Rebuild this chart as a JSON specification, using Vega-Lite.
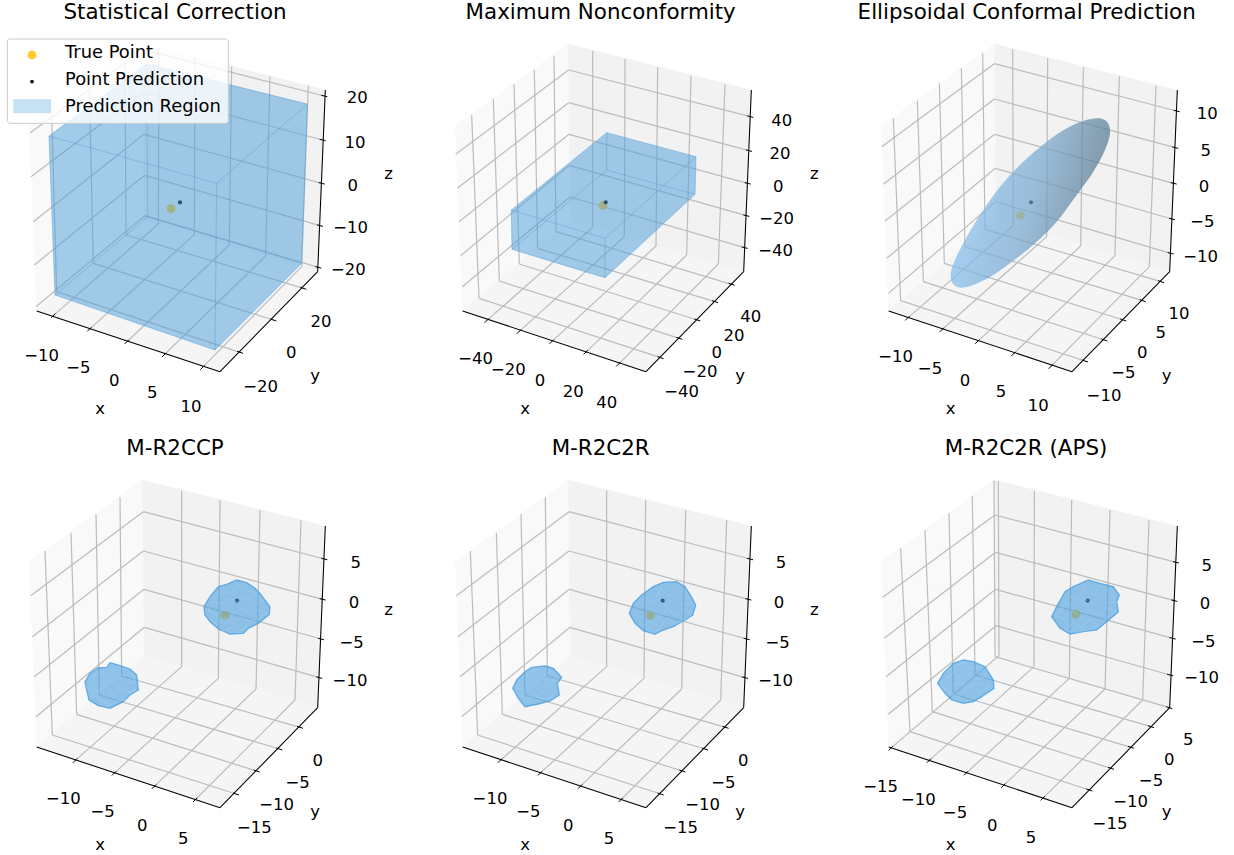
{"$schema":"https://vega.github.io/schema/vega-lite/v6.json","padding":0,"background":"white","bounds":"flush","columns":3,"spacing":{"column":44,"row":17},
"config":{"view":{"stroke":null},"axis":{"disable":true},"text":{"font":"DejaVu Sans"}},
"data":{"values":[
{"p":1,"k":"p","g":"a","x":110,"y":928},{"p":1,"k":"p","g":"a","x":433,"y":654},{"p":1,"k":"p","g":"a","x":427,"y":127},{"p":1,"k":"p","g":"a","x":88,"y":373},
{"p":1,"k":"p","g":"b","x":433,"y":654},{"p":1,"k":"p","g":"b","x":953,"y":810},{"p":1,"k":"p","g":"b","x":976,"y":265},{"p":1,"k":"p","g":"b","x":427,"y":127},
{"p":1,"k":"p","g":"c","x":110,"y":928},{"p":1,"k":"p","g":"c","x":660,"y":1110},{"p":1,"k":"p","g":"c","x":953,"y":810},{"p":1,"k":"p","g":"c","x":433,"y":654},
{"p":2,"k":"p","g":"a","x":110,"y":928},{"p":2,"k":"p","g":"a","x":433,"y":654},{"p":2,"k":"p","g":"a","x":427,"y":127},{"p":2,"k":"p","g":"a","x":88,"y":373},
{"p":2,"k":"p","g":"b","x":433,"y":654},{"p":2,"k":"p","g":"b","x":953,"y":810},{"p":2,"k":"p","g":"b","x":976,"y":265},{"p":2,"k":"p","g":"b","x":427,"y":127},
{"p":2,"k":"p","g":"c","x":110,"y":928},{"p":2,"k":"p","g":"c","x":660,"y":1110},{"p":2,"k":"p","g":"c","x":953,"y":810},{"p":2,"k":"p","g":"c","x":433,"y":654},
{"p":3,"k":"p","g":"a","x":110,"y":928},{"p":3,"k":"p","g":"a","x":433,"y":654},{"p":3,"k":"p","g":"a","x":427,"y":127},{"p":3,"k":"p","g":"a","x":88,"y":373},
{"p":3,"k":"p","g":"b","x":433,"y":654},{"p":3,"k":"p","g":"b","x":953,"y":810},{"p":3,"k":"p","g":"b","x":976,"y":265},{"p":3,"k":"p","g":"b","x":427,"y":127},
{"p":3,"k":"p","g":"c","x":110,"y":928},{"p":3,"k":"p","g":"c","x":660,"y":1110},{"p":3,"k":"p","g":"c","x":953,"y":810},{"p":3,"k":"p","g":"c","x":433,"y":654},
{"p":4,"k":"p","g":"a","x":110,"y":928},{"p":4,"k":"p","g":"a","x":433,"y":654},{"p":4,"k":"p","g":"a","x":427,"y":127},{"p":4,"k":"p","g":"a","x":88,"y":373},
{"p":4,"k":"p","g":"b","x":433,"y":654},{"p":4,"k":"p","g":"b","x":953,"y":810},{"p":4,"k":"p","g":"b","x":976,"y":265},{"p":4,"k":"p","g":"b","x":427,"y":127},
{"p":4,"k":"p","g":"c","x":110,"y":928},{"p":4,"k":"p","g":"c","x":660,"y":1110},{"p":4,"k":"p","g":"c","x":953,"y":810},{"p":4,"k":"p","g":"c","x":433,"y":654},
{"p":5,"k":"p","g":"a","x":110,"y":928},{"p":5,"k":"p","g":"a","x":433,"y":654},{"p":5,"k":"p","g":"a","x":427,"y":127},{"p":5,"k":"p","g":"a","x":88,"y":373},
{"p":5,"k":"p","g":"b","x":433,"y":654},{"p":5,"k":"p","g":"b","x":953,"y":810},{"p":5,"k":"p","g":"b","x":976,"y":265},{"p":5,"k":"p","g":"b","x":427,"y":127},
{"p":5,"k":"p","g":"c","x":110,"y":928},{"p":5,"k":"p","g":"c","x":660,"y":1110},{"p":5,"k":"p","g":"c","x":953,"y":810},{"p":5,"k":"p","g":"c","x":433,"y":654},
{"p":6,"k":"p","g":"a","x":110,"y":928},{"p":6,"k":"p","g":"a","x":433,"y":654},{"p":6,"k":"p","g":"a","x":427,"y":127},{"p":6,"k":"p","g":"a","x":88,"y":373},
{"p":6,"k":"p","g":"b","x":433,"y":654},{"p":6,"k":"p","g":"b","x":953,"y":810},{"p":6,"k":"p","g":"b","x":976,"y":265},{"p":6,"k":"p","g":"b","x":427,"y":127},
{"p":6,"k":"p","g":"c","x":110,"y":928},{"p":6,"k":"p","g":"c","x":660,"y":1110},{"p":6,"k":"p","g":"c","x":953,"y":810},{"p":6,"k":"p","g":"c","x":433,"y":654},
{"p":1,"k":"a","x0":110,"y0":928,"x1":660,"y1":1110},{"p":1,"k":"a","x0":660,"y0":1110,"x1":953,"y1":810},{"p":1,"k":"a","x0":953,"y0":810,"x1":976,"y1":265},
{"p":2,"k":"a","x0":110,"y0":928,"x1":660,"y1":1110},{"p":2,"k":"a","x0":660,"y0":1110,"x1":953,"y1":810},{"p":2,"k":"a","x0":953,"y0":810,"x1":976,"y1":265},
{"p":3,"k":"a","x0":110,"y0":928,"x1":660,"y1":1110},{"p":3,"k":"a","x0":660,"y0":1110,"x1":953,"y1":810},{"p":3,"k":"a","x0":953,"y0":810,"x1":976,"y1":265},
{"p":4,"k":"a","x0":110,"y0":928,"x1":660,"y1":1110},{"p":4,"k":"a","x0":660,"y0":1110,"x1":953,"y1":810},{"p":4,"k":"a","x0":953,"y0":810,"x1":976,"y1":265},
{"p":5,"k":"a","x0":110,"y0":928,"x1":660,"y1":1110},{"p":5,"k":"a","x0":660,"y0":1110,"x1":953,"y1":810},{"p":5,"k":"a","x0":953,"y0":810,"x1":976,"y1":265},
{"p":6,"k":"a","x0":110,"y0":928,"x1":660,"y1":1110},{"p":6,"k":"a","x0":660,"y0":1110,"x1":953,"y1":810},{"p":6,"k":"a","x0":953,"y0":810,"x1":976,"y1":265},
{"p":1,"k":"g","a":"x","x0":160,"y0":942,"x1":475,"y1":667,"x2":477,"y2":139,"t":"−10","lx":125,"ly":1062},
{"p":1,"k":"g","a":"x","x0":268,"y0":983,"x1":583,"y1":699,"x2":585,"y2":167,"t":"−5","lx":235,"ly":1100},
{"p":1,"k":"g","a":"x","x0":380,"y0":1021,"x1":688,"y1":730,"x2":695,"y2":194,"t":"0","lx":343,"ly":1137},
{"p":1,"k":"g","a":"x","x0":492,"y0":1060,"x1":797,"y1":763,"x2":810,"y2":223,"t":"5","lx":457,"ly":1175},
{"p":1,"k":"g","a":"x","x0":607,"y0":1098,"x1":905,"y1":795,"x2":925,"y2":252,"t":"10","lx":573,"ly":1215},
{"p":1,"k":"g","a":"y","x0":720,"y0":1052,"x1":170,"y1":870,"x2":155,"y2":341,"t":"−20","lx":782,"ly":1157},
{"p":1,"k":"g","a":"y","x0":820,"y0":955,"x1":280,"y1":785,"x2":268,"y2":258,"t":"0","lx":874,"ly":1055},
{"p":1,"k":"g","a":"y","x0":910,"y0":860,"x1":378,"y1":700,"x2":375,"y2":180,"t":"20","lx":963,"ly":960},
{"p":1,"k":"g","a":"z","x0":973,"y0":283,"x1":428,"y1":144,"x2":90,"y2":394,"t":"20","lx":1072,"ly":290},
{"p":1,"k":"g","a":"z","x0":968,"y0":415,"x1":430,"y1":272,"x2":93,"y2":525,"t":"10","lx":1065,"ly":423},
{"p":1,"k":"g","a":"z","x0":965,"y0":545,"x1":432,"y1":398,"x2":100,"y2":660,"t":"0","lx":1058,"ly":553},
{"p":1,"k":"g","a":"z","x0":960,"y0":672,"x1":434,"y1":521,"x2":103,"y2":790,"t":"−10","lx":1052,"ly":680},
{"p":1,"k":"g","a":"z","x0":955,"y0":797,"x1":435,"y1":642,"x2":108,"y2":915,"t":"−20","lx":1045,"ly":805},
{"p":2,"k":"g","a":"x","x0":182,"y0":957,"x1":500,"y1":677,"x2":500,"y2":148,"t":"−40","lx":149,"ly":1072},
{"p":2,"k":"g","a":"x","x0":279,"y0":990,"x1":595,"y1":705,"x2":597,"y2":172,"t":"−20","lx":247,"ly":1105},
{"p":2,"k":"g","a":"x","x0":377,"y0":1020,"x1":690,"y1":733,"x2":695,"y2":197,"t":"0","lx":342,"ly":1137},
{"p":2,"k":"g","a":"x","x0":479,"y0":1052,"x1":782,"y1":760,"x2":795,"y2":222,"t":"20","lx":442,"ly":1170},
{"p":2,"k":"g","a":"x","x0":577,"y0":1088,"x1":877,"y1":787,"x2":897,"y2":248,"t":"40","lx":542,"ly":1205},
{"p":2,"k":"g","a":"y","x0":704,"y0":1068,"x1":159,"y1":890,"x2":137,"y2":340,"t":"−40","lx":767,"ly":1170},
{"p":2,"k":"g","a":"y","x0":760,"y0":1010,"x1":220,"y1":838,"x2":202,"y2":293,"t":"−20","lx":822,"ly":1112},
{"p":2,"k":"g","a":"y","x0":814,"y0":955,"x1":280,"y1":787,"x2":264,"y2":248,"t":"0","lx":872,"ly":1055},
{"p":2,"k":"g","a":"y","x0":867,"y0":900,"x1":335,"y1":740,"x2":325,"y2":205,"t":"20","lx":924,"ly":1002},
{"p":2,"k":"g","a":"y","x0":917,"y0":848,"x1":390,"y1":690,"x2":384,"y2":162,"t":"40","lx":974,"ly":945},
{"p":2,"k":"g","a":"z","x0":973,"y0":345,"x1":428,"y1":205,"x2":89,"y2":458,"t":"40","lx":1067,"ly":357},
{"p":2,"k":"g","a":"z","x0":969,"y0":447,"x1":428,"y1":303,"x2":94,"y2":560,"t":"20","lx":1062,"ly":457},
{"p":2,"k":"g","a":"z","x0":965,"y0":545,"x1":429,"y1":398,"x2":99,"y2":660,"t":"0","lx":1057,"ly":555},
{"p":2,"k":"g","a":"z","x0":961,"y0":642,"x1":430,"y1":491,"x2":104,"y2":762,"t":"−20","lx":1052,"ly":652},
{"p":2,"k":"g","a":"z","x0":956,"y0":738,"x1":432,"y1":586,"x2":109,"y2":855,"t":"−40","lx":1049,"ly":747},
{"p":3,"k":"g","a":"x","x0":166,"y0":950,"x1":484,"y1":672,"x2":482,"y2":143,"t":"−10","lx":131,"ly":1065},
{"p":3,"k":"g","a":"x","x0":269,"y0":985,"x1":584,"y1":705,"x2":587,"y2":170,"t":"−5","lx":234,"ly":1102},
{"p":3,"k":"g","a":"x","x0":376,"y0":1020,"x1":686,"y1":733,"x2":694,"y2":197,"t":"0","lx":339,"ly":1137},
{"p":3,"k":"g","a":"x","x0":484,"y0":1057,"x1":789,"y1":762,"x2":802,"y2":224,"t":"5","lx":447,"ly":1172},
{"p":3,"k":"g","a":"x","x0":596,"y0":1095,"x1":892,"y1":795,"x2":912,"y2":252,"t":"10","lx":559,"ly":1212},
{"p":3,"k":"g","a":"y","x0":699,"y0":1078,"x1":146,"y1":897,"x2":124,"y2":350,"t":"−10","lx":756,"ly":1182},
{"p":3,"k":"g","a":"y","x0":757,"y0":1015,"x1":214,"y1":840,"x2":196,"y2":297,"t":"−5","lx":814,"ly":1115},
{"p":3,"k":"g","a":"y","x0":814,"y0":955,"x1":277,"y1":785,"x2":262,"y2":245,"t":"0","lx":871,"ly":1055},
{"p":3,"k":"g","a":"y","x0":872,"y0":897,"x1":339,"y1":735,"x2":328,"y2":200,"t":"5","lx":926,"ly":995},
{"p":3,"k":"g","a":"y","x0":927,"y0":840,"x1":399,"y1":683,"x2":392,"y2":155,"t":"10","lx":981,"ly":938},
{"p":3,"k":"g","a":"z","x0":974,"y0":328,"x1":427,"y1":186,"x2":89,"y2":435,"t":"10","lx":1066,"ly":338},
{"p":3,"k":"g","a":"z","x0":970,"y0":438,"x1":427,"y1":292,"x2":94,"y2":548,"t":"5","lx":1061,"ly":448},
{"p":3,"k":"g","a":"z","x0":965,"y0":545,"x1":428,"y1":398,"x2":99,"y2":658,"t":"0","lx":1056,"ly":555},
{"p":3,"k":"g","a":"z","x0":960,"y0":652,"x1":430,"y1":500,"x2":104,"y2":770,"t":"−5","lx":1051,"ly":662},
{"p":3,"k":"g","a":"z","x0":956,"y0":755,"x1":431,"y1":600,"x2":109,"y2":875,"t":"−10","lx":1046,"ly":765},
{"p":4,"k":"g","a":"x","x0":225,"y0":969,"x1":545,"y1":687,"x2":545,"y2":159,"t":"−10","lx":190,"ly":1085},
{"p":4,"k":"g","a":"x","x0":342,"y0":1007,"x1":655,"y1":722,"x2":660,"y2":187,"t":"−5","lx":308,"ly":1122},
{"p":4,"k":"g","a":"x","x0":462,"y0":1047,"x1":768,"y1":754,"x2":780,"y2":217,"t":"0","lx":427,"ly":1165},
{"p":4,"k":"g","a":"x","x0":585,"y0":1087,"x1":885,"y1":787,"x2":903,"y2":247,"t":"5","lx":550,"ly":1204},
{"p":4,"k":"g","a":"y","x0":708,"y0":1069,"x1":157,"y1":892,"x2":135,"y2":340,"t":"−15","lx":763,"ly":1172},
{"p":4,"k":"g","a":"y","x0":770,"y0":1000,"x1":230,"y1":830,"x2":213,"y2":285,"t":"−10","lx":830,"ly":1102},
{"p":4,"k":"g","a":"y","x0":838,"y0":934,"x1":298,"y1":772,"x2":288,"y2":230,"t":"−5","lx":893,"ly":1037},
{"p":4,"k":"g","a":"y","x0":900,"y0":869,"x1":365,"y1":715,"x2":360,"y2":179,"t":"0","lx":953,"ly":970},
{"p":4,"k":"g","a":"z","x0":973,"y0":364,"x1":430,"y1":222,"x2":92,"y2":474,"t":"5","lx":1067,"ly":377},
{"p":4,"k":"g","a":"z","x0":968,"y0":485,"x1":430,"y1":340,"x2":97,"y2":597,"t":"0","lx":1062,"ly":495},
{"p":4,"k":"g","a":"z","x0":963,"y0":604,"x1":432,"y1":455,"x2":103,"y2":717,"t":"−5","lx":1055,"ly":615},
{"p":4,"k":"g","a":"z","x0":958,"y0":720,"x1":433,"y1":569,"x2":108,"y2":837,"t":"−10","lx":1050,"ly":729},
{"p":5,"k":"g","a":"x","x0":222,"y0":969,"x1":542,"y1":687,"x2":542,"y2":159,"t":"−10","lx":192,"ly":1085},
{"p":5,"k":"g","a":"x","x0":342,"y0":1007,"x1":654,"y1":722,"x2":659,"y2":187,"t":"−5","lx":307,"ly":1124},
{"p":5,"k":"g","a":"x","x0":462,"y0":1047,"x1":767,"y1":754,"x2":779,"y2":217,"t":"0","lx":427,"ly":1165},
{"p":5,"k":"g","a":"x","x0":584,"y0":1087,"x1":884,"y1":787,"x2":902,"y2":247,"t":"5","lx":549,"ly":1204},
{"p":5,"k":"g","a":"y","x0":704,"y0":1069,"x1":155,"y1":892,"x2":133,"y2":340,"t":"−15","lx":764,"ly":1172},
{"p":5,"k":"g","a":"y","x0":769,"y0":1000,"x1":229,"y1":830,"x2":211,"y2":285,"t":"−10","lx":830,"ly":1102},
{"p":5,"k":"g","a":"y","x0":837,"y0":934,"x1":297,"y1":772,"x2":285,"y2":230,"t":"−5","lx":892,"ly":1035},
{"p":5,"k":"g","a":"y","x0":899,"y0":869,"x1":364,"y1":715,"x2":358,"y2":179,"t":"0","lx":952,"ly":970},
{"p":5,"k":"g","a":"z","x0":972,"y0":364,"x1":429,"y1":222,"x2":91,"y2":474,"t":"5","lx":1065,"ly":377},
{"p":5,"k":"g","a":"z","x0":967,"y0":485,"x1":429,"y1":340,"x2":96,"y2":597,"t":"0","lx":1059,"ly":495},
{"p":5,"k":"g","a":"z","x0":962,"y0":604,"x1":430,"y1":455,"x2":102,"y2":717,"t":"−5","lx":1055,"ly":615},
{"p":5,"k":"g","a":"z","x0":957,"y0":720,"x1":432,"y1":569,"x2":107,"y2":837,"t":"−10","lx":1049,"ly":729},
{"p":6,"k":"g","a":"x","x0":116,"y0":932,"x1":441,"y1":654,"x2":439,"y2":130,"t":"−15","lx":86,"ly":1049},
{"p":6,"k":"g","a":"x","x0":231,"y0":969,"x1":546,"y1":687,"x2":547,"y2":159,"t":"−10","lx":199,"ly":1087},
{"p":6,"k":"g","a":"x","x0":342,"y0":1007,"x1":652,"y1":722,"x2":659,"y2":187,"t":"−5","lx":309,"ly":1125},
{"p":6,"k":"g","a":"x","x0":454,"y0":1044,"x1":759,"y1":754,"x2":774,"y2":217,"t":"0","lx":421,"ly":1165},
{"p":6,"k":"g","a":"x","x0":572,"y0":1082,"x1":872,"y1":787,"x2":891,"y2":247,"t":"5","lx":537,"ly":1202},
{"p":6,"k":"g","a":"y","x0":712,"y0":1057,"x1":174,"y1":882,"x2":146,"y2":332,"t":"−15","lx":774,"ly":1160},
{"p":6,"k":"g","a":"y","x0":777,"y0":992,"x1":241,"y1":822,"x2":219,"y2":277,"t":"−10","lx":836,"ly":1094},
{"p":6,"k":"g","a":"y","x0":837,"y0":929,"x1":304,"y1":769,"x2":291,"y2":227,"t":"−5","lx":897,"ly":1030},
{"p":6,"k":"g","a":"y","x0":897,"y0":867,"x1":369,"y1":712,"x2":361,"y2":175,"t":"0","lx":952,"ly":967},
{"p":6,"k":"g","a":"y","x0":952,"y0":810,"x1":429,"y1":657,"x2":426,"y2":129,"t":"5","lx":1009,"ly":907},
{"p":6,"k":"g","a":"z","x0":972,"y0":374,"x1":429,"y1":232,"x2":92,"y2":479,"t":"5","lx":1064,"ly":385},
{"p":6,"k":"g","a":"z","x0":967,"y0":489,"x1":431,"y1":344,"x2":97,"y2":602,"t":"0","lx":1059,"ly":499},
{"p":6,"k":"g","a":"z","x0":962,"y0":602,"x1":431,"y1":455,"x2":102,"y2":717,"t":"−5","lx":1054,"ly":612},
{"p":6,"k":"g","a":"z","x0":954,"y0":712,"x1":432,"y1":564,"x2":109,"y2":830,"t":"−10","lx":1049,"ly":722},
{"p":1,"k":"ti","t":"Statistical Correction","lx":525,"ly":33},{"p":2,"k":"ti","t":"Maximum Nonconformity","lx":524,"ly":33},{"p":3,"k":"ti","t":"Ellipsoidal Conformal Prediction","lx":524,"ly":33},{"p":4,"k":"ti","t":"M-R2CCP","lx":525,"ly":33},{"p":5,"k":"ti","t":"M-R2C2R","lx":524,"ly":33},{"p":6,"k":"ti","t":"M-R2C2R (APS)","lx":522,"ly":33},
{"p":1,"k":"al","t":"x","lx":300,"ly":1222},{"p":1,"k":"al","t":"y","lx":945,"ly":1122},{"p":1,"k":"al","t":"z","lx":1166,"ly":517},
{"p":2,"k":"al","t":"x","lx":297,"ly":1222},{"p":2,"k":"al","t":"y","lx":942,"ly":1122},{"p":2,"k":"al","t":"z","lx":1165,"ly":517},
{"p":3,"k":"al","t":"x","lx":296,"ly":1222},{"p":3,"k":"al","t":"y","lx":944,"ly":1122},
{"p":4,"k":"al","t":"x","lx":300,"ly":1222},{"p":4,"k":"al","t":"y","lx":945,"ly":1122},{"p":4,"k":"al","t":"z","lx":1166,"ly":517},
{"p":5,"k":"al","t":"x","lx":297,"ly":1222},{"p":5,"k":"al","t":"y","lx":942,"ly":1122},{"p":5,"k":"al","t":"z","lx":1165,"ly":517},
{"p":6,"k":"al","t":"x","lx":296,"ly":1222},{"p":6,"k":"al","t":"y","lx":944,"ly":1122},
{"p":1,"k":"t","x":513,"y":621},{"p":2,"k":"t","x":531,"y":611},{"p":3,"k":"t","x":505,"y":641},{"p":4,"k":"t","x":675,"y":533},{"p":5,"k":"t","x":673,"y":533},{"p":6,"k":"t","x":672,"y":530},
{"p":1,"k":"e","x":540,"y":602},{"p":2,"k":"e","x":539,"y":602},{"p":3,"k":"e","x":537,"y":602},{"p":4,"k":"e","x":711,"y":489},{"p":5,"k":"e","x":710,"y":489},{"p":6,"k":"e","x":707,"y":489},
{"p":1,"k":"f","g":"f1","x":147,"y":403},{"p":1,"k":"f","g":"f1","x":440,"y":187},{"p":1,"k":"f","g":"f1","x":922,"y":307},{"p":1,"k":"f","g":"f1","x":650,"y":545},
{"p":1,"k":"f","g":"f2","x":165,"y":880},{"p":1,"k":"f","g":"f2","x":443,"y":645},{"p":1,"k":"f","g":"f2","x":905,"y":785},{"p":1,"k":"f","g":"f2","x":645,"y":1045},
{"p":1,"k":"f","g":"f3","x":147,"y":403},{"p":1,"k":"f","g":"f3","x":440,"y":187},{"p":1,"k":"f","g":"f3","x":443,"y":645},{"p":1,"k":"f","g":"f3","x":165,"y":880},
{"p":1,"k":"f","g":"f4","x":440,"y":187},{"p":1,"k":"f","g":"f4","x":922,"y":307},{"p":1,"k":"f","g":"f4","x":905,"y":785},{"p":1,"k":"f","g":"f4","x":443,"y":645},
{"p":1,"k":"f","g":"f5","x":147,"y":403},{"p":1,"k":"f","g":"f5","x":650,"y":545},{"p":1,"k":"f","g":"f5","x":645,"y":1045},{"p":1,"k":"f","g":"f5","x":165,"y":880},
{"p":1,"k":"f","g":"f6","x":650,"y":545},{"p":1,"k":"f","g":"f6","x":922,"y":307},{"p":1,"k":"f","g":"f6","x":905,"y":785},{"p":1,"k":"f","g":"f6","x":645,"y":1045},
{"p":2,"k":"f","g":"f1","x":256,"y":625},{"p":2,"k":"f","g":"f1","x":542,"y":393},{"p":2,"k":"f","g":"f1","x":810,"y":465},{"p":2,"k":"f","g":"f1","x":537,"y":710},
{"p":2,"k":"f","g":"f2","x":258,"y":743},{"p":2,"k":"f","g":"f2","x":542,"y":505},{"p":2,"k":"f","g":"f2","x":807,"y":578},{"p":2,"k":"f","g":"f2","x":537,"y":828},
{"p":2,"k":"f","g":"f3","x":256,"y":625},{"p":2,"k":"f","g":"f3","x":542,"y":393},{"p":2,"k":"f","g":"f3","x":542,"y":505},{"p":2,"k":"f","g":"f3","x":258,"y":743},
{"p":2,"k":"f","g":"f4","x":542,"y":393},{"p":2,"k":"f","g":"f4","x":810,"y":465},{"p":2,"k":"f","g":"f4","x":807,"y":578},{"p":2,"k":"f","g":"f4","x":542,"y":505},
{"p":2,"k":"f","g":"f5","x":256,"y":625},{"p":2,"k":"f","g":"f5","x":537,"y":710},{"p":2,"k":"f","g":"f5","x":537,"y":828},{"p":2,"k":"f","g":"f5","x":258,"y":743},
{"p":2,"k":"f","g":"f6","x":537,"y":710},{"p":2,"k":"f","g":"f6","x":810,"y":465},{"p":2,"k":"f","g":"f6","x":807,"y":578},{"p":2,"k":"f","g":"f6","x":537,"y":828},
{"p":3,"k":"el","x":296,"y":815},{"p":3,"k":"el","x":309,"y":775},{"p":3,"k":"el","x":339,"y":715},{"p":3,"k":"el","x":384,"y":640},{"p":3,"k":"el","x":444,"y":555},{"p":3,"k":"el","x":514,"y":480},{"p":3,"k":"el","x":584,"y":420},{"p":3,"k":"el","x":644,"y":380},{"p":3,"k":"el","x":694,"y":358},{"p":3,"k":"el","x":739,"y":350},{"p":3,"k":"el","x":766,"y":362},{"p":3,"k":"el","x":774,"y":395},{"p":3,"k":"el","x":759,"y":445},{"p":3,"k":"el","x":724,"y":510},{"p":3,"k":"el","x":674,"y":580},{"p":3,"k":"el","x":614,"y":660},{"p":3,"k":"el","x":554,"y":720},{"p":3,"k":"el","x":494,"y":770},{"p":3,"k":"el","x":424,"y":820},{"p":3,"k":"el","x":364,"y":850},{"p":3,"k":"el","x":324,"y":858},{"p":3,"k":"el","x":302,"y":845},
{"p":4,"k":"b","g":"L","x":612,"y":507},{"p":4,"k":"b","g":"L","x":630,"y":477},{"p":4,"k":"b","g":"L","x":655,"y":447},{"p":4,"k":"b","g":"L","x":680,"y":440},{"p":4,"k":"b","g":"L","x":710,"y":427},{"p":4,"k":"b","g":"L","x":740,"y":435},{"p":4,"k":"b","g":"L","x":765,"y":452},{"p":4,"k":"b","g":"L","x":782,"y":470},{"p":4,"k":"b","g":"L","x":810,"y":507},{"p":4,"k":"b","g":"L","x":808,"y":530},{"p":4,"k":"b","g":"L","x":775,"y":557},{"p":4,"k":"b","g":"L","x":745,"y":572},{"p":4,"k":"b","g":"L","x":730,"y":587},{"p":4,"k":"b","g":"L","x":690,"y":589},{"p":4,"k":"b","g":"L","x":655,"y":574},{"p":4,"k":"b","g":"L","x":630,"y":552},{"p":4,"k":"b","g":"L","x":615,"y":532},
{"p":4,"k":"b","g":"S","x":255,"y":732},{"p":4,"k":"b","g":"S","x":270,"y":707},{"p":4,"k":"b","g":"S","x":295,"y":690},{"p":4,"k":"b","g":"S","x":320,"y":690},{"p":4,"k":"b","g":"S","x":330,"y":675},{"p":4,"k":"b","g":"S","x":355,"y":682},{"p":4,"k":"b","g":"S","x":390,"y":694},{"p":4,"k":"b","g":"S","x":410,"y":712},{"p":4,"k":"b","g":"S","x":415,"y":757},{"p":4,"k":"b","g":"S","x":390,"y":772},{"p":4,"k":"b","g":"S","x":370,"y":792},{"p":4,"k":"b","g":"S","x":330,"y":812},{"p":4,"k":"b","g":"S","x":295,"y":804},{"p":4,"k":"b","g":"S","x":267,"y":787},{"p":4,"k":"b","g":"S","x":260,"y":757},
{"p":5,"k":"b","g":"L","x":610,"y":527},{"p":5,"k":"b","g":"L","x":622,"y":497},{"p":5,"k":"b","g":"L","x":647,"y":472},{"p":5,"k":"b","g":"L","x":682,"y":447},{"p":5,"k":"b","g":"L","x":712,"y":434},{"p":5,"k":"b","g":"L","x":752,"y":432},{"p":5,"k":"b","g":"L","x":777,"y":447},{"p":5,"k":"b","g":"L","x":797,"y":479},{"p":5,"k":"b","g":"L","x":809,"y":502},{"p":5,"k":"b","g":"L","x":800,"y":532},{"p":5,"k":"b","g":"L","x":777,"y":547},{"p":5,"k":"b","g":"L","x":742,"y":567},{"p":5,"k":"b","g":"L","x":707,"y":579},{"p":5,"k":"b","g":"L","x":687,"y":590},{"p":5,"k":"b","g":"L","x":652,"y":579},{"p":5,"k":"b","g":"L","x":627,"y":557},
{"p":5,"k":"b","g":"S","x":260,"y":752},{"p":5,"k":"b","g":"S","x":272,"y":727},{"p":5,"k":"b","g":"S","x":297,"y":702},{"p":5,"k":"b","g":"S","x":317,"y":689},{"p":5,"k":"b","g":"S","x":357,"y":685},{"p":5,"k":"b","g":"S","x":382,"y":692},{"p":5,"k":"b","g":"S","x":407,"y":719},{"p":5,"k":"b","g":"S","x":394,"y":737},{"p":5,"k":"b","g":"S","x":400,"y":772},{"p":5,"k":"b","g":"S","x":372,"y":790},{"p":5,"k":"b","g":"S","x":337,"y":799},{"p":5,"k":"b","g":"S","x":297,"y":807},{"p":5,"k":"b","g":"S","x":277,"y":782},
{"p":6,"k":"b","g":"L","x":599,"y":537},{"p":6,"k":"b","g":"L","x":614,"y":507},{"p":6,"k":"b","g":"L","x":639,"y":462},{"p":6,"k":"b","g":"L","x":664,"y":447},{"p":6,"k":"b","g":"L","x":709,"y":427},{"p":6,"k":"b","g":"L","x":744,"y":437},{"p":6,"k":"b","g":"L","x":784,"y":447},{"p":6,"k":"b","g":"L","x":802,"y":472},{"p":6,"k":"b","g":"L","x":794,"y":492},{"p":6,"k":"b","g":"L","x":799,"y":522},{"p":6,"k":"b","g":"L","x":764,"y":552},{"p":6,"k":"b","g":"L","x":734,"y":577},{"p":6,"k":"b","g":"L","x":694,"y":582},{"p":6,"k":"b","g":"L","x":654,"y":589},{"p":6,"k":"b","g":"L","x":624,"y":572},
{"p":6,"k":"b","g":"S","x":257,"y":737},{"p":6,"k":"b","g":"S","x":274,"y":707},{"p":6,"k":"b","g":"S","x":304,"y":677},{"p":6,"k":"b","g":"S","x":334,"y":667},{"p":6,"k":"b","g":"S","x":364,"y":672},{"p":6,"k":"b","g":"S","x":399,"y":687},{"p":6,"k":"b","g":"S","x":424,"y":727},{"p":6,"k":"b","g":"S","x":426,"y":752},{"p":6,"k":"b","g":"S","x":389,"y":777},{"p":6,"k":"b","g":"S","x":364,"y":792},{"p":6,"k":"b","g":"S","x":334,"y":797},{"p":6,"k":"b","g":"S","x":299,"y":787},{"p":6,"k":"b","g":"S","x":279,"y":767},
{"p":4,"k":"m","g":"L","x":640,"y":480},{"p":4,"k":"m","g":"L","x":665,"y":460},{"p":4,"k":"m","g":"L","x":690,"y":470},{"p":4,"k":"m","g":"L","x":715,"y":445},{"p":4,"k":"m","g":"L","x":740,"y":460},{"p":4,"k":"m","g":"L","x":765,"y":465},{"p":4,"k":"m","g":"L","x":790,"y":490},{"p":4,"k":"m","g":"L","x":765,"y":500},{"p":4,"k":"m","g":"L","x":740,"y":480},{"p":4,"k":"m","g":"L","x":715,"y":495},{"p":4,"k":"m","g":"L","x":690,"y":480},{"p":4,"k":"m","g":"L","x":665,"y":500},{"p":4,"k":"m","g":"L","x":640,"y":490},{"p":4,"k":"m","g":"L","x":625,"y":520},{"p":4,"k":"m","g":"L","x":650,"y":530},{"p":4,"k":"m","g":"L","x":675,"y":510},{"p":4,"k":"m","g":"L","x":700,"y":530},{"p":4,"k":"m","g":"L","x":725,"y":510},{"p":4,"k":"m","g":"L","x":750,"y":530},{"p":4,"k":"m","g":"L","x":775,"y":515},{"p":4,"k":"m","g":"L","x":800,"y":525},{"p":4,"k":"m","g":"L","x":775,"y":545},{"p":4,"k":"m","g":"L","x":750,"y":550},{"p":4,"k":"m","g":"L","x":725,"y":535},{"p":4,"k":"m","g":"L","x":700,"y":560},{"p":4,"k":"m","g":"L","x":675,"y":540},{"p":4,"k":"m","g":"L","x":650,"y":560},{"p":4,"k":"m","g":"L","x":630,"y":540},{"p":4,"k":"m","g":"L","x":670,"y":580},{"p":4,"k":"m","g":"L","x":700,"y":565},{"p":4,"k":"m","g":"L","x":725,"y":580},{"p":4,"k":"m","g":"L","x":745,"y":560},
{"p":4,"k":"m","g":"S","x":270,"y":720},{"p":4,"k":"m","g":"S","x":295,"y":705},{"p":4,"k":"m","g":"S","x":320,"y":720},{"p":4,"k":"m","g":"S","x":345,"y":695},{"p":4,"k":"m","g":"S","x":370,"y":715},{"p":4,"k":"m","g":"S","x":395,"y":705},{"p":4,"k":"m","g":"S","x":405,"y":735},{"p":4,"k":"m","g":"S","x":380,"y":730},{"p":4,"k":"m","g":"S","x":355,"y":745},{"p":4,"k":"m","g":"S","x":330,"y":725},{"p":4,"k":"m","g":"S","x":305,"y":745},{"p":4,"k":"m","g":"S","x":280,"y":725},{"p":4,"k":"m","g":"S","x":262,"y":750},{"p":4,"k":"m","g":"S","x":290,"y":765},{"p":4,"k":"m","g":"S","x":315,"y":745},{"p":4,"k":"m","g":"S","x":340,"y":770},{"p":4,"k":"m","g":"S","x":365,"y":750},{"p":4,"k":"m","g":"S","x":390,"y":765},{"p":4,"k":"m","g":"S","x":408,"y":755},{"p":4,"k":"m","g":"S","x":380,"y":785},{"p":4,"k":"m","g":"S","x":350,"y":790},{"p":4,"k":"m","g":"S","x":330,"y":770},{"p":4,"k":"m","g":"S","x":305,"y":795},{"p":4,"k":"m","g":"S","x":285,"y":775},{"p":4,"k":"m","g":"S","x":335,"y":805},
{"p":5,"k":"m","g":"L","x":630,"y":505},{"p":5,"k":"m","g":"L","x":655,"y":480},{"p":5,"k":"m","g":"L","x":680,"y":495},{"p":5,"k":"m","g":"L","x":705,"y":455},{"p":5,"k":"m","g":"L","x":730,"y":475},{"p":5,"k":"m","g":"L","x":755,"y":445},{"p":5,"k":"m","g":"L","x":780,"y":465},{"p":5,"k":"m","g":"L","x":795,"y":495},{"p":5,"k":"m","g":"L","x":770,"y":500},{"p":5,"k":"m","g":"L","x":745,"y":480},{"p":5,"k":"m","g":"L","x":720,"y":505},{"p":5,"k":"m","g":"L","x":695,"y":485},{"p":5,"k":"m","g":"L","x":670,"y":515},{"p":5,"k":"m","g":"L","x":645,"y":500},{"p":5,"k":"m","g":"L","x":620,"y":530},{"p":5,"k":"m","g":"L","x":650,"y":540},{"p":5,"k":"m","g":"L","x":675,"y":520},{"p":5,"k":"m","g":"L","x":700,"y":540},{"p":5,"k":"m","g":"L","x":725,"y":515},{"p":5,"k":"m","g":"L","x":750,"y":535},{"p":5,"k":"m","g":"L","x":775,"y":515},{"p":5,"k":"m","g":"L","x":800,"y":525},{"p":5,"k":"m","g":"L","x":775,"y":545},{"p":5,"k":"m","g":"L","x":750,"y":560},{"p":5,"k":"m","g":"L","x":725,"y":540},{"p":5,"k":"m","g":"L","x":700,"y":570},{"p":5,"k":"m","g":"L","x":675,"y":550},{"p":5,"k":"m","g":"L","x":650,"y":565},{"p":5,"k":"m","g":"L","x":680,"y":585},{"p":5,"k":"m","g":"L","x":705,"y":572},
{"p":5,"k":"m","g":"S","x":280,"y":725},{"p":5,"k":"m","g":"S","x":305,"y":710},{"p":5,"k":"m","g":"S","x":330,"y":695},{"p":5,"k":"m","g":"S","x":350,"y":715},{"p":5,"k":"m","g":"S","x":375,"y":700},{"p":5,"k":"m","g":"S","x":395,"y":725},{"p":5,"k":"m","g":"S","x":370,"y":735},{"p":5,"k":"m","g":"S","x":345,"y":720},{"p":5,"k":"m","g":"S","x":320,"y":740},{"p":5,"k":"m","g":"S","x":295,"y":725},{"p":5,"k":"m","g":"S","x":270,"y":750},{"p":5,"k":"m","g":"S","x":295,"y":760},{"p":5,"k":"m","g":"S","x":320,"y":745},{"p":5,"k":"m","g":"S","x":345,"y":765},{"p":5,"k":"m","g":"S","x":370,"y":745},{"p":5,"k":"m","g":"S","x":392,"y":760},{"p":5,"k":"m","g":"S","x":375,"y":780},{"p":5,"k":"m","g":"S","x":350,"y":785},{"p":5,"k":"m","g":"S","x":325,"y":770},{"p":5,"k":"m","g":"S","x":305,"y":795},{"p":5,"k":"m","g":"S","x":285,"y":775},{"p":5,"k":"m","g":"S","x":265,"y":760},
{"p":6,"k":"m","g":"L","x":625,"y":520},{"p":6,"k":"m","g":"L","x":650,"y":475},{"p":6,"k":"m","g":"L","x":675,"y":490},{"p":6,"k":"m","g":"L","x":700,"y":445},{"p":6,"k":"m","g":"L","x":725,"y":470},{"p":6,"k":"m","g":"L","x":750,"y":445},{"p":6,"k":"m","g":"L","x":775,"y":465},{"p":6,"k":"m","g":"L","x":795,"y":495},{"p":6,"k":"m","g":"L","x":770,"y":495},{"p":6,"k":"m","g":"L","x":745,"y":475},{"p":6,"k":"m","g":"L","x":720,"y":500},{"p":6,"k":"m","g":"L","x":695,"y":480},{"p":6,"k":"m","g":"L","x":670,"y":510},{"p":6,"k":"m","g":"L","x":645,"y":495},{"p":6,"k":"m","g":"L","x":610,"y":535},{"p":6,"k":"m","g":"L","x":640,"y":545},{"p":6,"k":"m","g":"L","x":665,"y":520},{"p":6,"k":"m","g":"L","x":690,"y":545},{"p":6,"k":"m","g":"L","x":715,"y":515},{"p":6,"k":"m","g":"L","x":740,"y":535},{"p":6,"k":"m","g":"L","x":765,"y":510},{"p":6,"k":"m","g":"L","x":790,"y":520},{"p":6,"k":"m","g":"L","x":765,"y":540},{"p":6,"k":"m","g":"L","x":740,"y":565},{"p":6,"k":"m","g":"L","x":715,"y":545},{"p":6,"k":"m","g":"L","x":690,"y":570},{"p":6,"k":"m","g":"L","x":665,"y":555},{"p":6,"k":"m","g":"L","x":640,"y":575},{"p":6,"k":"m","g":"L","x":670,"y":585},{"p":6,"k":"m","g":"L","x":700,"y":578},{"p":6,"k":"m","g":"L","x":735,"y":570},
{"p":6,"k":"m","g":"S","x":285,"y":700},{"p":6,"k":"m","g":"S","x":310,"y":685},{"p":6,"k":"m","g":"S","x":335,"y":675},{"p":6,"k":"m","g":"S","x":355,"y":695},{"p":6,"k":"m","g":"S","x":380,"y":685},{"p":6,"k":"m","g":"S","x":405,"y":715},{"p":6,"k":"m","g":"S","x":380,"y":725},{"p":6,"k":"m","g":"S","x":355,"y":705},{"p":6,"k":"m","g":"S","x":330,"y":725},{"p":6,"k":"m","g":"S","x":305,"y":705},{"p":6,"k":"m","g":"S","x":275,"y":730},{"p":6,"k":"m","g":"S","x":300,"y":745},{"p":6,"k":"m","g":"S","x":325,"y":735},{"p":6,"k":"m","g":"S","x":350,"y":750},{"p":6,"k":"m","g":"S","x":375,"y":735},{"p":6,"k":"m","g":"S","x":415,"y":745},{"p":6,"k":"m","g":"S","x":390,"y":760},{"p":6,"k":"m","g":"S","x":365,"y":770},{"p":6,"k":"m","g":"S","x":340,"y":755},{"p":6,"k":"m","g":"S","x":315,"y":780},{"p":6,"k":"m","g":"S","x":295,"y":765},{"p":6,"k":"m","g":"S","x":265,"y":745},{"p":6,"k":"m","g":"S","x":340,"y":790},{"p":6,"k":"m","g":"S","x":370,"y":780},
{"p":1,"k":"lb","x0":22,"y0":112,"x1":685,"y1":365},
{"p":1,"k":"lp","x0":40,"y0":293,"x1":153,"y1":335},
{"p":1,"k":"lt","x":96,"y":160},{"p":1,"k":"le","x":96,"y":240},
{"p":1,"k":"lx","t":"True Point","lx":195,"ly":155},{"p":1,"k":"lx","t":"Point Prediction","lx":195,"ly":235},{"p":1,"k":"lx","t":"Prediction Region","lx":195,"ly":315}
]},
"facet":{"field":"p","type":"ordinal","header":{"title":null,"labelExpr":"''","labelFontSize":1,"labelPadding":0,"labelColor":"transparent"}},
"spec":{"width":382,"height":419,"layer":[
{"transform":[{"filter":"datum.k=='p'"}],"mark":{"type":"line","interpolate":"linear-closed","strokeWidth":0.5},"encoding":{"x":{"field":"x","type":"quantitative","scale":{"domain":[0,1146]}},"y":{"field":"y","type":"quantitative","scale":{"domain":[1261,4]}},"order":{"value":null},"fill":{"field":"g","type":"nominal","scale":{"domain":["a","b","c"],"range":["#f9f9f9","#f2f2f2","#f5f5f5"]},"legend":null},"stroke":{"field":"g","type":"nominal","scale":{"domain":["a","b","c"],"range":["#f9f9f9","#f2f2f2","#f5f5f5"]},"legend":null}}},
{"transform":[{"filter":"datum.k=='g'"}],"mark":{"type":"rule","stroke":"#bcbcbc","strokeWidth":1.2},"encoding":{"x":{"field":"x0","type":"quantitative","scale":{"domain":[0,1146]}},"y":{"field":"y0","type":"quantitative","scale":{"domain":[1261,4]}},"x2":{"field":"x1"},"y2":{"field":"y1"}}},
{"transform":[{"filter":"datum.k=='g'"}],"mark":{"type":"rule","stroke":"#bcbcbc","strokeWidth":1.2},"encoding":{"x":{"field":"x1","type":"quantitative","scale":{"domain":[0,1146]}},"y":{"field":"y1","type":"quantitative","scale":{"domain":[1261,4]}},"x2":{"field":"x2"},"y2":{"field":"y2"}}},
{"transform":[{"filter":"datum.k=='a'"}],"mark":{"type":"rule","stroke":"#000000","strokeWidth":1.07},"encoding":{"x":{"field":"x0","type":"quantitative","scale":{"domain":[0,1146]}},"y":{"field":"y0","type":"quantitative","scale":{"domain":[1261,4]}},"x2":{"field":"x1"},"y2":{"field":"y1"}}},
{"transform":[{"filter":"datum.k=='g'"}],"mark":{"type":"point","filled":false,"stroke":"#000000","strokeWidth":1,"size":36,"opacity":1},"encoding":{"x":{"field":"x0","type":"quantitative","scale":{"domain":[0,1146]}},"y":{"field":"y0","type":"quantitative","scale":{"domain":[1261,4]}},"shape":{"field":"a","type":"nominal","scale":{"domain":["x","y","z"],"range":["M-0.7,0.7L0.7,-0.7","M-1,-0.33L1,0.33","M-1,-0.25L1,0.25"]},"legend":null}}},
{"transform":[{"filter":"datum.k=='g'"}],"mark":{"type":"text","fontSize":16.5,"font":"DejaVu Sans","color":"#000000","align":"center","baseline":"middle"},"encoding":{"x":{"field":"lx","type":"quantitative","scale":{"domain":[0,1146]}},"y":{"field":"ly","type":"quantitative","scale":{"domain":[1261,4]}},"text":{"field":"t"}}},
{"transform":[{"filter":"datum.k=='al'"}],"mark":{"type":"text","fontSize":16.5,"font":"DejaVu Sans","color":"#000000","align":"center","baseline":"middle"},"encoding":{"x":{"field":"lx","type":"quantitative","scale":{"domain":[0,1146]}},"y":{"field":"ly","type":"quantitative","scale":{"domain":[1261,4]}},"text":{"field":"t"}}},
{"transform":[{"filter":"datum.k=='ti'"}],"mark":{"type":"text","fontSize":21.4,"font":"DejaVu Sans","color":"#000000","align":"center","baseline":"middle"},"encoding":{"x":{"field":"lx","type":"quantitative","scale":{"domain":[0,1146]}},"y":{"field":"ly","type":"quantitative","scale":{"domain":[1261,4]}},"text":{"field":"t"}}},
{"transform":[{"filter":"datum.k=='t'"}],"mark":{"type":"point","filled":true,"color":"#ffc107","opacity":0.85,"size":78},"encoding":{"x":{"field":"x","type":"quantitative","scale":{"domain":[0,1146]}},"y":{"field":"y","type":"quantitative","scale":{"domain":[1261,4]}}}},
{"transform":[{"filter":"datum.k=='e'"}],"mark":{"type":"point","filled":true,"color":"#000000","opacity":1,"size":17},"encoding":{"x":{"field":"x","type":"quantitative","scale":{"domain":[0,1146]}},"y":{"field":"y","type":"quantitative","scale":{"domain":[1261,4]}}}},
{"transform":[{"filter":"datum.k=='f'"}],"mark":{"type":"line","interpolate":"linear-closed","fill":"#4f9fdc","fillOpacity":0.3,"stroke":"#4f9fdc","strokeOpacity":0.25,"strokeWidth":1},"encoding":{"x":{"field":"x","type":"quantitative","scale":{"domain":[0,1146]}},"y":{"field":"y","type":"quantitative","scale":{"domain":[1261,4]}},"order":{"value":null},"detail":{"field":"g"}}},
{"transform":[{"filter":"datum.k=='el'"}],"mark":{"type":"line","interpolate":"cardinal-closed","fill":{"gradient":"linear","x1":0.15,"y1":0.4,"x2":0.85,"y2":0.6,"stops":[{"offset":0,"color":"#82bcec"},{"offset":0.5,"color":"#74a6cf"},{"offset":1,"color":"#557890"}]},"fillOpacity":0.7,"stroke":null},"encoding":{"x":{"field":"x","type":"quantitative","scale":{"domain":[0,1146]}},"y":{"field":"y","type":"quantitative","scale":{"domain":[1261,4]}},"order":{"value":null}}},
{"transform":[{"filter":"datum.k=='b'"}],"mark":{"type":"line","interpolate":"linear-closed","fill":"#4a9fe0","fillOpacity":0.6,"stroke":"#4a9fe0","strokeOpacity":0.8,"strokeWidth":1.3},"encoding":{"x":{"field":"x","type":"quantitative","scale":{"domain":[0,1146]}},"y":{"field":"y","type":"quantitative","scale":{"domain":[1261,4]}},"order":{"value":null},"detail":{"field":"g"}}},
{"transform":[{"filter":"datum.k=='m'"}],"mark":{"type":"line","stroke":"#a3d2f3","strokeOpacity":0.6,"strokeWidth":0.7},"encoding":{"x":{"field":"x","type":"quantitative","scale":{"domain":[0,1146]}},"y":{"field":"y","type":"quantitative","scale":{"domain":[1261,4]}},"order":{"value":null},"detail":{"field":"g"}}},
{"transform":[{"filter":"datum.k=='lb'"}],"mark":{"type":"rect","fill":"#ffffff","fillOpacity":0.8,"stroke":"#cccccc","strokeWidth":1,"cornerRadius":3},"encoding":{"x":{"field":"x0","type":"quantitative","scale":{"domain":[0,1146]}},"y":{"field":"y0","type":"quantitative","scale":{"domain":[1261,4]}},"x2":{"field":"x1"},"y2":{"field":"y1"}}},
{"transform":[{"filter":"datum.k=='lp'"}],"mark":{"type":"rect","fill":"#c6e0f4"},"encoding":{"x":{"field":"x0","type":"quantitative","scale":{"domain":[0,1146]}},"y":{"field":"y0","type":"quantitative","scale":{"domain":[1261,4]}},"x2":{"field":"x1"},"y2":{"field":"y1"}}},
{"transform":[{"filter":"datum.k=='lt'"}],"mark":{"type":"point","filled":true,"color":"#ffc107","opacity":0.85,"size":78},"encoding":{"x":{"field":"x","type":"quantitative","scale":{"domain":[0,1146]}},"y":{"field":"y","type":"quantitative","scale":{"domain":[1261,4]}}}},
{"transform":[{"filter":"datum.k=='le'"}],"mark":{"type":"point","filled":true,"color":"#000000","opacity":1,"size":13},"encoding":{"x":{"field":"x","type":"quantitative","scale":{"domain":[0,1146]}},"y":{"field":"y","type":"quantitative","scale":{"domain":[1261,4]}}}},
{"transform":[{"filter":"datum.k=='lx'"}],"mark":{"type":"text","fontSize":17.9,"font":"DejaVu Sans","color":"#000000","align":"left","baseline":"middle"},"encoding":{"x":{"field":"lx","type":"quantitative","scale":{"domain":[0,1146]}},"y":{"field":"ly","type":"quantitative","scale":{"domain":[1261,4]}},"text":{"field":"t"}}}
]}}
